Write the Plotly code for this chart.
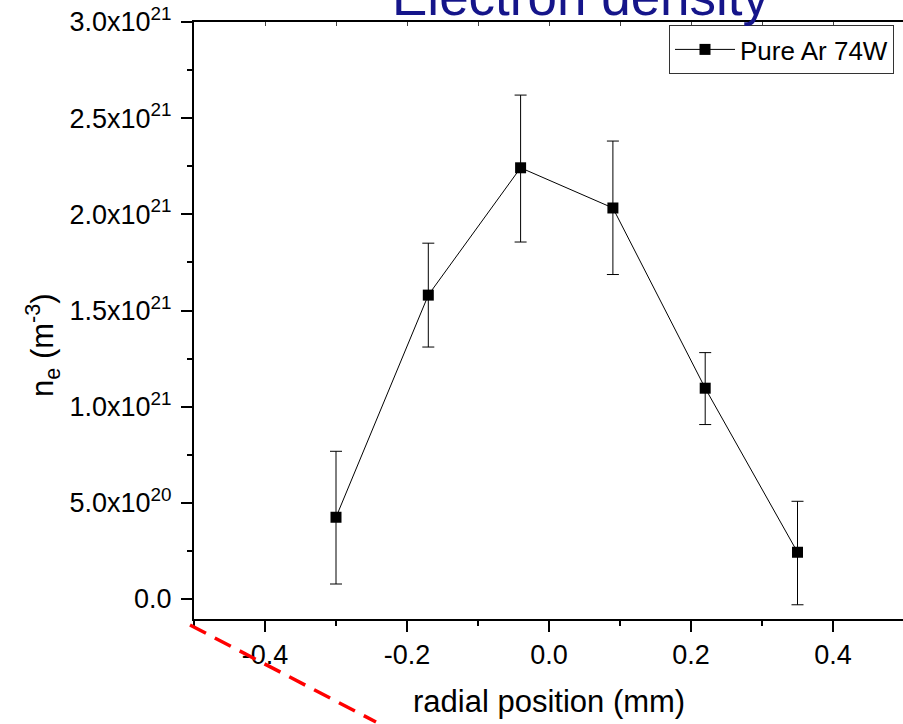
import plotly.graph_objects as go

# ---- data ----
radial_mm = [-0.30, -0.17, -0.04, 0.09, 0.22, 0.35]
ne = [4.25e20, 1.58e21, 2.242e21, 2.033e21, 1.096e21, 2.43e20]
err_plus = [3.43e20, 2.7e20, 3.78e20, 3.48e20, 1.85e20, 2.65e20]
err_minus = [3.47e20, 2.7e20, 3.86e20, 3.46e20, 1.89e20, 2.73e20]
series_name = "Pure Ar 74W"

x_tickvals = [-0.4, -0.2, 0.0, 0.2, 0.4]
x_ticktext = ["-0.4", "-0.2", "0.0", "0.2", "0.4"]
y_tickvals = [0, 5e20, 1e21, 1.5e21, 2e21, 2.5e21, 3e21]
y_ticktext = ["0.0", "5.0x10<sup>20</sup>", "1.0x10<sup>21</sup>", "1.5x10<sup>21</sup>",
              "2.0x10<sup>21</sup>", "2.5x10<sup>21</sup>", "3.0x10<sup>21</sup>"]

W, H = 903, 724
L, R, T, B = 194, 0, 22, 105
pw, ph = W - L - R, H - T - B


def px(xp):
    return (xp - L) / pw


def py(yp):
    return (H - B - yp) / ph


FONT = "Arial, Liberation Sans, sans-serif"

fig = go.Figure()
fig.add_trace(go.Scatter(
    x=radial_mm, y=ne, mode="lines+markers", name=series_name,
    line=dict(color="black", width=1),
    marker=dict(symbol="square", size=11, color="black"),
    error_y=dict(type="data", array=err_plus, arrayminus=err_minus,
                 color="black", thickness=1, width=6),
))

fig.update_layout(
    width=W, height=H,
    margin=dict(l=L, r=R, t=T, b=B, pad=0),
    paper_bgcolor="white", plot_bgcolor="white",
    font=dict(family=FONT, color="black", size=27),
    showlegend=True,
    legend=dict(x=px(894), y=py(25), xanchor="right", yanchor="top",
                bgcolor="white", bordercolor="#333333", borderwidth=1,
                font=dict(size=26, family=FONT), itemwidth=60,
                tracegroupgap=0),
    xaxis=dict(range=[-0.5, -0.5 + pw / 710.0], tickvals=x_tickvals, ticktext=x_ticktext,
               showgrid=False, zeroline=False, showline=True, linecolor="black",
               linewidth=2, mirror=True, ticks="outside", ticklen=11, tickwidth=2,
               tickcolor="black", tickfont=dict(size=27),
               minor=dict(dtick=0.1, tick0=0, ticks="outside", ticklen=5,
                          tickwidth=2, tickcolor="black", showgrid=False)),
    xaxis2=dict(range=[-0.5, -0.5 + pw / 710.0], overlaying="x", side="top",
                anchor="y", dtick=0.1, tick0=0, ticks="inside", ticklen=4,
                tickwidth=1, tickcolor="#444444", showticklabels=False,
                showgrid=False, zeroline=False, showline=False),
    yaxis=dict(range=[-1.04e20, 3.0e21], tickvals=y_tickvals, ticktext=y_ticktext,
               showgrid=False, zeroline=False, showline=True, linecolor="black",
               linewidth=2, ticks="outside", ticklen=11, tickwidth=2,
               tickcolor="black", tickfont=dict(size=27), ticklabelstandoff=4,
               minor=dict(dtick=2.5e20, tick0=0, ticks="outside", ticklen=5,
                          tickwidth=2, tickcolor="black", showgrid=False)),
)

fig.add_trace(go.Scatter(x=[None], y=[None], xaxis="x2", yaxis="y",
                         showlegend=False, hoverinfo="skip"))

annotations = [
    dict(text="Electron density", x=px(581), y=py(28), xref="paper", yref="paper",
         xanchor="center", yanchor="bottom", showarrow=False,
         font=dict(size=53, color="#15158a", family=FONT)),
    dict(text="radial position (mm)", x=px(549), y=py(702), xref="paper", yref="paper",
         xanchor="center", yanchor="middle", showarrow=False,
         font=dict(size=31, family=FONT)),
    dict(text="n<sub>e</sub> (m<sup>-3</sup>)", x=px(42), y=py(345), xref="paper",
         yref="paper", xanchor="center", yanchor="middle", textangle=-90,
         showarrow=False, font=dict(size=31, family=FONT)),
]
fig.update_layout(annotations=annotations)

fig.add_shape(type="line", xref="paper", yref="paper",
              x0=px(190), y0=py(625), x1=px(376), y1=py(722),
              line=dict(color="red", width=3.5, dash="18px,10px"))

fig.write_html("out.html")
